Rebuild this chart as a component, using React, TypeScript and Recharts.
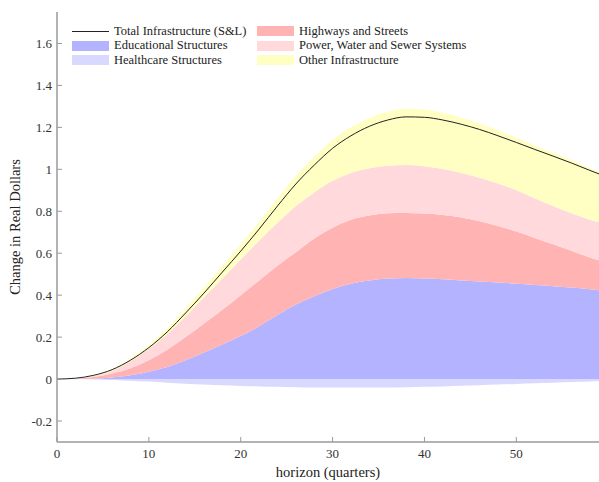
import { Area, ComposedChart, Label, Line, XAxis, YAxis } from "recharts";

const FONT = "Liberation Serif, Times New Roman, Times, serif";

// horizon in quarters
const horizon = [0, 2, 4, 6, 8, 10, 12, 14, 16, 18, 20, 22, 24, 26, 28, 30, 32, 34, 36, 38, 40, 42, 44, 46, 48, 50, 52, 54, 56, 58, 59];
const educational = [0, 0.0003, 0.002, 0.007, 0.018, 0.035, 0.058, 0.09, 0.127, 0.165, 0.205, 0.252, 0.305, 0.355, 0.395, 0.43, 0.455, 0.47, 0.479, 0.482, 0.48, 0.476, 0.47, 0.465, 0.46, 0.455, 0.449, 0.443, 0.436, 0.428, 0.424];
const healthcare = [0, -0.001, -0.002, -0.004, -0.008, -0.012, -0.017, -0.022, -0.026, -0.03, -0.033, -0.035, -0.037, -0.039, -0.04, -0.04, -0.04, -0.04, -0.04, -0.039, -0.037, -0.035, -0.032, -0.029, -0.026, -0.023, -0.02, -0.017, -0.014, -0.011, -0.01];
const highways = [0, 0.0017, 0.008, 0.02, 0.034, 0.055, 0.082, 0.11, 0.138, 0.165, 0.195, 0.218, 0.235, 0.25, 0.275, 0.292, 0.305, 0.31, 0.311, 0.31, 0.309, 0.306, 0.3, 0.287, 0.27, 0.248, 0.224, 0.2, 0.176, 0.152, 0.143];
const powerWater = [0, 0.001, 0.005, 0.013, 0.033, 0.055, 0.075, 0.1, 0.125, 0.15, 0.17, 0.19, 0.205, 0.22, 0.22, 0.223, 0.223, 0.225, 0.227, 0.228, 0.226, 0.22, 0.213, 0.208, 0.202, 0.197, 0.189, 0.182, 0.178, 0.18, 0.182];
const otherInfra = [0, 0.002, 0.005, 0.009, 0.013, 0.017, 0.027, 0.037, 0.046, 0.06, 0.073, 0.09, 0.117, 0.144, 0.17, 0.195, 0.217, 0.24, 0.258, 0.269, 0.27, 0.268, 0.264, 0.259, 0.254, 0.251, 0.253, 0.255, 0.254, 0.246, 0.239];
const total = [0, 0.004, 0.018, 0.045, 0.09, 0.15, 0.225, 0.315, 0.41, 0.51, 0.61, 0.715, 0.825, 0.93, 1.02, 1.1, 1.16, 1.205, 1.235, 1.25, 1.248, 1.235, 1.215, 1.19, 1.16, 1.128, 1.095, 1.063, 1.03, 0.995, 0.978];

const xTicks = [0, 10, 20, 30, 40, 50];
const yTicks = [-0.2, 0, 0.2, 0.4, 0.6, 0.8, 1, 1.2, 1.4, 1.6];

const colors = {
  edu: "#b3b3ff",
  hc: "#d9d9ff",
  hwy: "#ffb3b3",
  pow: "#ffd9dc",
  oth: "#ffffc4",
};

const rows = horizon.map((h, i) => ({
  h,
  edu: educational[i],
  hc: healthcare[i],
  hwy: highways[i],
  pow: powerWater[i],
  oth: otherInfra[i],
  total: total[i],
}));

const legendLeft = [
  { name: "Total Infrastructure (S&L)", color: "#222", line: true },
  { name: "Educational Structures", color: colors.edu },
  { name: "Healthcare Structures", color: colors.hc },
];
const legendRight = [
  { name: "Highways and Streets", color: colors.hwy },
  { name: "Power, Water and Sewer Systems", color: colors.pow },
  { name: "Other Infrastructure", color: colors.oth },
];

function LegendColumn({ items, left }: { items: { name: string; color: string; line?: boolean }[]; left: number }) {
  return (
    <div style={{ position: "absolute", left, top: 24 }}>
      {items.map(item => (
        <div key={item.name} style={{ display: "flex", alignItems: "center", height: 14.5 }}>
          <div style={{ width: 37, height: 10, marginRight: 5, display: "flex", alignItems: "center" }}>
            {item.line ? (
              <div style={{ width: 37, height: 1, background: item.color }} />
            ) : (
              <div style={{ width: 37, height: 10, background: item.color }} />
            )}
          </div>
          <span style={{ fontSize: 12.5, color: "#222", whiteSpace: "nowrap", fontFamily: FONT }}>{item.name}</span>
        </div>
      ))}
    </div>
  );
}

const axisLine = { stroke: "#9a9a9a", strokeWidth: 1.5 };
const tickStyle = { fontSize: 13, fill: "#333", fontFamily: FONT };

export default function App() {
  return (
    <div style={{ position: "absolute", left: 0, top: 0, width: 599, height: 482, background: "#fff", fontFamily: FONT }}>
      <ComposedChart
        width={599}
        height={482}
        data={rows}
        stackOffset="sign"
        margin={{ top: 12, right: 0, bottom: 0, left: 0 }}
        style={{ fontFamily: FONT }}
      >
        <XAxis
          dataKey="h"
          type="number"
          domain={[0, 59]}
          ticks={xTicks}
          height={40}
          axisLine={axisLine}
          tickLine={{ stroke: "#9a9a9a" }}
          tickSize={-5}
          tickMargin={12}
          tick={tickStyle}
        >
          <Label value="horizon (quarters)" position="insideBottom" offset={5} style={{ fontSize: 14.5, fill: "#222", fontFamily: FONT }} />
        </XAxis>
        <YAxis
          type="number"
          domain={[-0.3, 1.75]}
          allowDataOverflow
          ticks={yTicks}
          width={57}
          axisLine={axisLine}
          tickLine={{ stroke: "#9a9a9a" }}
          tickSize={-5}
          tickMargin={10}
          tick={tickStyle}
        >
          <Label
            value="Change in Real Dollars"
            angle={-90}
            position="insideLeft"
            offset={15}
            style={{ textAnchor: "middle", fontSize: 14.5, fill: "#222", fontFamily: FONT }}
          />
        </YAxis>
        <Area type="monotone" dataKey="edu" stackId="s" stroke="none" fill={colors.edu} fillOpacity={1} isAnimationActive={false} />
        <Area type="monotone" dataKey="hc" stackId="s" stroke="none" fill={colors.hc} fillOpacity={1} isAnimationActive={false} />
        <Area type="monotone" dataKey="hwy" stackId="s" stroke="none" fill={colors.hwy} fillOpacity={1} isAnimationActive={false} />
        <Area type="monotone" dataKey="pow" stackId="s" stroke="none" fill={colors.pow} fillOpacity={1} isAnimationActive={false} />
        <Area type="monotone" dataKey="oth" stackId="s" stroke="none" fill={colors.oth} fillOpacity={1} isAnimationActive={false} />
        <Line type="monotone" dataKey="total" stroke="#222" strokeWidth={1} dot={false} isAnimationActive={false} />
      </ComposedChart>
      <LegendColumn items={legendLeft} left={72} />
      <LegendColumn items={legendRight} left={257} />
    </div>
  );
}
